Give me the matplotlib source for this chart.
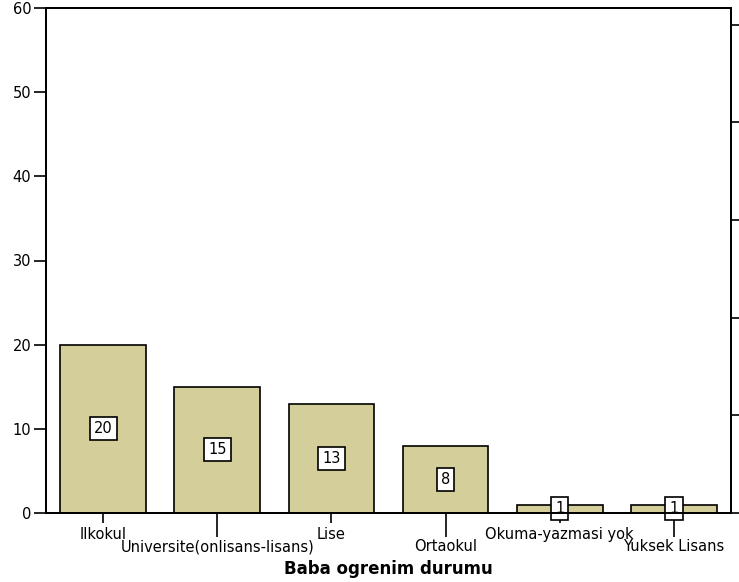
import matplotlib
matplotlib.use("Agg")
import matplotlib.pyplot as plt
import numpy as np

categories = ["Ilkokul", "Universite(onlisans-lisans)", "Lise", "Ortaokul",
              "Okuma-yazmasi yok", "Yuksek Lisans"]
counts = [20, 15, 13, 8, 1, 1]
y_ticks = [0, 10, 20, 30, 40, 50, 60]
pct_ticks = [0, 20, 40, 60, 80, 100]

plt.rcParams['font.family'] = ['DejaVu Sans']

fig = plt.figure(figsize=(7.39, 5.82), dpi=100)
ax = fig.add_axes([46/739, 69/582, 685/739, 505/582])

x = np.arange(len(categories))
ax.bar(x, counts, width=0.75, color="#d3ce9a", edgecolor="black", linewidth=1.2, zorder=2)
for xi, c in zip(x, counts):
    ax.text(xi, c/2, str(c), ha="center", va="center", fontsize=10.5, zorder=3,
            bbox=dict(boxstyle="square,pad=0.28", facecolor="white", edgecolor="black", linewidth=1.2))

ax.set_xlim(-0.5, len(categories)-0.5)
ax.set_ylim(0, 60)
ax.set_yticks(y_ticks)
ax.tick_params(axis='y', direction='out', length=8.6, width=1.2, labelsize=10.5, pad=2)

even = x[::2]
odd = x[1::2]
ax.set_xticks(even)
ax.set_xticklabels([categories[i] for i in even])
ax.set_xticks(odd, minor=True)
ax.set_xticklabels([categories[i] for i in odd], minor=True)
ax.tick_params(axis='x', which='major', direction='out', length=7.5, width=1.2, labelsize=10.5, pad=2.5)
ax.tick_params(axis='x', which='minor', direction='out', length=17.5, width=1.2, labelsize=10.5, pad=1.5)

for s in ax.spines.values():
    s.set_linewidth(1.4)

ax.set_xlabel("Baba ogrenim durumu", fontsize=12, fontweight='bold', labelpad=4)

ax2 = ax.twinx()
ax2.set_ylim(0, 60/sum(counts)*100)
ax2.set_yticks(pct_ticks)
ax2.set_yticklabels([])
ax2.tick_params(axis='y', direction='out', length=9, width=1.2)
for s in ax2.spines.values():
    s.set_linewidth(1.4)

fig.savefig("out.png", dpi=100)
